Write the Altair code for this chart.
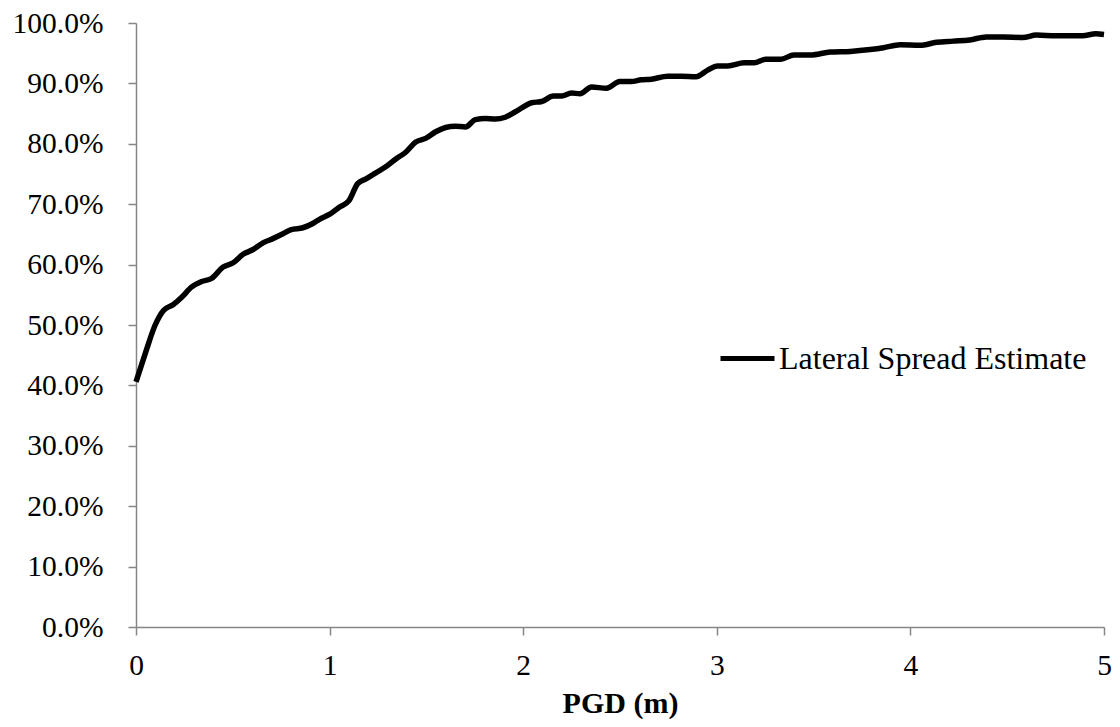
import altair as alt
import pandas as pd

pgd = [0, 0.048, 0.099, 0.142, 0.193, 0.236, 0.288, 0.339, 0.39, 0.45, 0.502, 0.553,
       0.605, 0.656, 0.707, 0.759, 0.802, 0.862, 0.913, 0.948, 0.999, 1.05, 1.10,
       1.145, 1.188, 1.239, 1.29, 1.342, 1.393, 1.445, 1.496, 1.548, 1.599, 1.65,
       1.702, 1.753, 1.805, 1.856, 1.907, 1.96, 2.044, 2.096, 2.156, 2.199, 2.25,
       2.293, 2.353, 2.43, 2.499, 2.558, 2.61, 2.661, 2.747, 2.815, 2.893, 2.953,
       3.004, 3.056, 3.141, 3.193, 3.253, 3.33, 3.398, 3.484, 3.587, 3.69, 3.792,
       3.861, 3.947, 4.049, 4.135, 4.221, 4.307, 4.392, 4.478, 4.581, 4.65, 4.752,
       4.889, 4.958, 5.0]
prob_pct = [40.6, 45.3, 50.0, 52.4, 53.4, 54.6, 56.3, 57.2, 57.7, 59.6, 60.3, 61.7,
            62.5, 63.6, 64.3, 65.1, 65.8, 66.1, 66.8, 67.5, 68.3, 69.5, 70.6,
            73.4, 74.2, 75.2, 76.2, 77.5, 78.6, 80.3, 80.9, 82.0, 82.7, 82.9,
            82.8, 84.0, 84.2, 84.1, 84.4, 85.3, 86.8, 87.0, 87.9, 87.9, 88.4,
            88.3, 89.4, 89.2, 90.3, 90.3, 90.6, 90.7, 91.2, 91.2, 91.1, 92.2,
            92.9, 92.9, 93.4, 93.4, 94.0, 94.0, 94.7, 94.7, 95.2, 95.3, 95.6,
            95.9, 96.4, 96.3, 96.8, 97.0, 97.2, 97.7, 97.7, 97.6, 98.0, 97.9,
            97.9, 98.2, 98.1]
series_name = "Lateral Spread Estimate"
x_ticks = [0, 1, 2, 3, 4, 5]
y_ticks = [0, 0.1, 0.2, 0.3, 0.4, 0.5, 0.6, 0.7, 0.8, 0.9, 1.0]

df = pd.DataFrame({
    "PGD": pgd,
    "P": [v / 100 for v in prob_pct],
    "series": [series_name] * len(pgd),
})

FONT = "Liberation Serif"
AX = "#868686"

chart = alt.Chart(df).mark_line(strokeWidth=5.5, interpolate="monotone").encode(
    x=alt.X("PGD:Q", scale=alt.Scale(domain=[0, 5], nice=False),
            axis=alt.Axis(values=x_ticks, format="d", title="PGD (m)",
                          labelPadding=16, titlePadding=9, labelFlush=False)),
    y=alt.Y("P:Q", scale=alt.Scale(domain=[0, 1], nice=False),
            axis=alt.Axis(values=y_ticks, format=".1%", title=None,
                          labelPadding=25, labelFlush=False)),
    color=alt.Color("series:N",
                    scale=alt.Scale(domain=[series_name], range=["#000000"]),
                    legend=alt.Legend(title=None, orient="none", legendX=582, legendY=306,
                                      symbolType="stroke", symbolSize=2916,
                                      symbolStrokeWidth=5, labelFontSize=32,
                                      labelFont=FONT, labelColor="black",
                                      labelOffset=2, padding=0, labelLimit=600)),
).properties(
    width=968, height=604,
    autosize=alt.AutoSizeParams(type="none"),
    padding={"left": 128, "top": 15, "right": 8, "bottom": 92},
    background="white",
).configure_view(stroke=None).configure_axis(
    grid=False, domainColor=AX, domainWidth=1.5, tickColor=AX, tickWidth=1.5,
    tickSize=8, labelFont=FONT, labelFontSize=29.5, labelColor="black",
    titleFont=FONT, titleFontSize=30, titleFontWeight="bold", titleColor="black",
)

chart.save("out.html", embed_options={"renderer": "svg", "actions": False})
